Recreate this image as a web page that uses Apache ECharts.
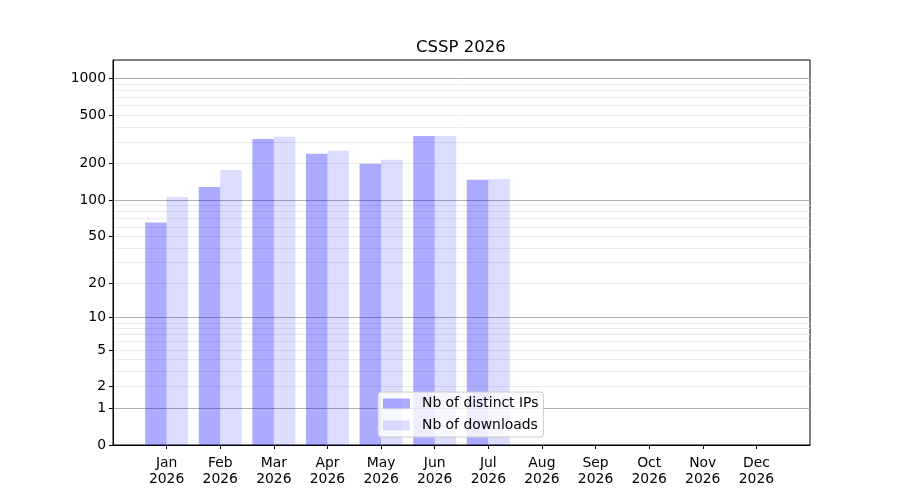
<!DOCTYPE html>
<html>
<head>
<meta charset="utf-8">
<script src="https://cdn.jsdelivr.net/npm/echarts@6/dist/echarts.min.js"></script>
<style>
  html, body { margin: 0; padding: 0; background: #fff; }
  #chart { width: 900px; height: 500px; }
</style>
</head>
<body>
<div id="chart"></div>
<script>
var months = ['Jan', 'Feb', 'Mar', 'Apr', 'May', 'Jun', 'Jul', 'Aug', 'Sep', 'Oct', 'Nov', 'Dec'];
var year = '2026';
var distinctIps = [65, 128, 318, 240, 199, 337, 147, 0, 0, 0, 0, 0];
var downloads = [106, 177, 331, 254, 215, 337, 149, 0, 0, 0, 0, 0];
var yTicks = [0, 1, 2, 5, 10, 20, 50, 100, 200, 500, 1000];
var majorGrid = [1, 10, 100, 1000];
var minorGrid = [2, 3, 4, 5, 6, 7, 8, 9, 20, 30, 40, 50, 60, 70, 80, 90, 200, 300, 400, 500, 600, 700, 800, 900];

// y axis is log10(1 + x)
function fwd(v) { return Math.log10(1 + v); }
function inv(v) { return Math.round(Math.pow(10, v) - 1); }

// one empty slot each side, like the matplotlib x limits
var cats = [''].concat(months.map(function (m) { return m + '\n' + year; }), ['']);
function pad(arr) { return [null].concat(arr.map(fwd), [null]); }

var font = 'DejaVu Sans';
var yMin = 0, yMax = 3.15;

// hidden y axes that only draw grid lines
function gridAxis(values, color) {
    return {
        type: 'value',
        min: yMin,
        max: yMax,
        position: 'left',
        axisLine: { show: false },
        axisTick: { show: false, customValues: values.map(fwd) },
        axisLabel: { show: false, customValues: values.map(fwd) },
        splitLine: { show: true, lineStyle: { color: color, width: 1 } }
    };
}

var myChart = echarts.init(document.getElementById('chart'));
var option = {
    backgroundColor: '#fff',
    animation: false,
    textStyle: { fontFamily: font },
    title: {
        text: 'CSSP 2026',
        left: 416,
        top: 39,
        padding: 0,
        textStyle: { fontFamily: font, fontSize: 16.5, fontWeight: 'normal', color: '#000' }
    },
    legend: {
        orient: 'vertical',
        left: 378,
        top: 392,
        padding: [3, 5, 3, 5],
        itemGap: 5,
        itemWidth: 27,
        itemHeight: 10,
        backgroundColor: 'rgba(255,255,255,0.8)',
        borderColor: '#cccccc',
        borderWidth: 1,
        borderRadius: 3,
        icon: 'rect',
        textStyle: { fontFamily: font, fontSize: 13.9, color: '#000', lineHeight: 17, padding: [0, 0, 0, 7] },
        data: ['Nb of distinct IPs', 'Nb of downloads']
    },
    grid: {
        left: 113, right: 90, top: 60, bottom: 55,
        show: true, borderColor: '#000', borderWidth: 1, backgroundColor: 'transparent'
    },
    xAxis: {
        type: 'category',
        data: cats,
        boundaryGap: false,
        axisLine: { lineStyle: { color: '#000' } },
        axisTick: {
            length: 4,
            lineStyle: { color: '#000' },
            interval: function (i) { return i > 0 && i < cats.length - 1; }
        },
        axisLabel: {
            interval: 0,
            margin: 10,
            color: '#000',
            fontFamily: font,
            fontSize: 13.9,
            lineHeight: 16
        },
        splitLine: { show: false }
    },
    yAxis: [
        {
            type: 'value',
            min: yMin,
            max: yMax,
            position: 'left',
            axisLine: { show: true, lineStyle: { color: '#000' } },
            axisTick: {
                show: true,
                length: 4,
                lineStyle: { color: '#000' },
                customValues: yTicks.map(fwd)
            },
            axisLabel: {
                margin: 7,
                color: '#000',
                fontFamily: font,
                fontSize: 13.9,
                customValues: yTicks.map(fwd),
                formatter: function (v) { return String(inv(v)); }
            },
            splitLine: { show: false }
        },
        gridAxis(minorGrid, '#ebebeb'),
        gridAxis(majorGrid, '#b0b0b0')
    ],
    series: [
        {
            name: 'Nb of distinct IPs',
            type: 'bar',
            data: pad(distinctIps),
            barWidth: 21.5,
            barGap: '0%',
            z: 3,
            itemStyle: { color: 'rgba(0,0,255,0.33)' }
        },
        {
            name: 'Nb of downloads',
            type: 'bar',
            data: pad(downloads),
            barWidth: 21.5,
            barGap: '0%',
            z: 3,
            itemStyle: { color: 'rgba(0,0,255,0.135)' }
        }
    ]
};
myChart.setOption(option);
</script>
</body>
</html>
